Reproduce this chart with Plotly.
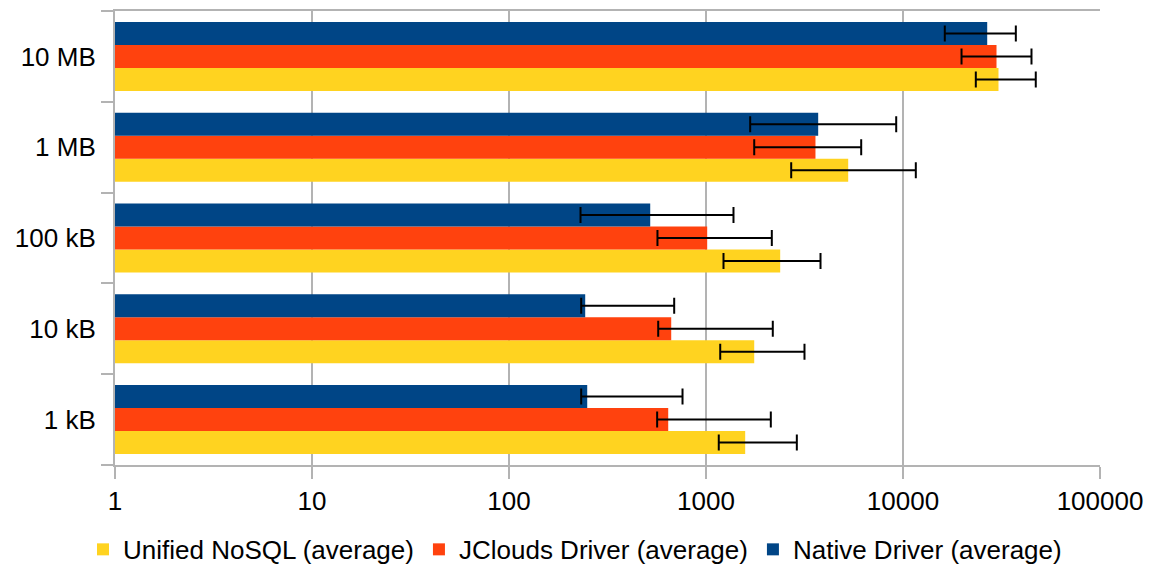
import plotly.graph_objects as go

categories = ["1 kB", "10 kB", "100 kB", "1 MB", "10 MB"]

series_names = ["Unified NoSQL (average)", "JClouds Driver (average)", "Native Driver (average)"]
series_colors = ["#ffd320", "#ff420e", "#004586"]

unified_avg = [1581, 1757, 2380, 5270, 30530]
unified_lo = [1161, 1181, 1227, 2707, 23420]
unified_hi = [2891, 3162, 3813, 11615, 47200]

jclouds_avg = [643, 666, 1014, 3595, 29830]
jclouds_lo = [565, 572, 567, 1757, 19820]
jclouds_hi = [2133, 2183, 2158, 6135, 44900]

native_avg = [249.5, 243.7, 521, 3711, 26760]
native_lo = [232.5, 232.5, 230.7, 1676, 16300]
native_hi = [760, 689.5, 1379, 9237, 37390]

x_tickvals = [1, 10, 100, 1000, 10000, 100000]
x_ticktext = ["1", "10", "100", "1000", "10000", "100000"]

data = [
    (unified_avg, unified_lo, unified_hi),
    (jclouds_avg, jclouds_lo, jclouds_hi),
    (native_avg, native_lo, native_hi),
]

fig = go.Figure()
for name, color, (avg, lo, hi) in zip(series_names, series_colors, data):
    fig.add_trace(go.Bar(
        y=categories, x=avg, orientation="h", name=name,
        marker=dict(color=color, line=dict(width=0)),
        error_x=dict(type="data", symmetric=False,
                     array=[h - a for h, a in zip(hi, avg)],
                     arrayminus=[a - l for a, l in zip(avg, lo)],
                     color="black", thickness=2, width=8),
    ))

font = "Liberation Sans, Arial, sans-serif"
fig.update_layout(
    width=1150, height=559,
    margin=dict(l=107, r=58, t=2.5, b=101.5, autoexpand=False),
    paper_bgcolor="white", plot_bgcolor="white",
    barmode="group", bargap=0.24, bargroupgap=0,
    font=dict(family=font, size=26, color="black"),
    showlegend=True,
    legend=dict(orientation="h", xref="paper", yref="paper", x=0.467, xanchor="center",
                y=-0.186, yanchor="middle", font=dict(size=26),
                itemwidth=30, tracegroupgap=0),
    xaxis=dict(type="log", range=[0, 5], tickvals=x_tickvals, ticktext=x_ticktext,
               tickangle=0,
               showgrid=True, gridcolor="#b3b3b3", gridwidth=2,
               showline=True, linecolor="#b3b3b3", linewidth=2,
               ticks="outside", ticklen=12, tickcolor="#b3b3b3", tickwidth=2,
               zeroline=False, mirror=True),
    yaxis=dict(type="category", showgrid=False, showline=True, linecolor="#b3b3b3",
               linewidth=2, ticks="outside", ticklen=12, tickcolor="#b3b3b3",
               tickwidth=2, tickson="boundaries", zeroline=False,
               ticklabelstandoff=12),
)

fig.write_html("out.html")
